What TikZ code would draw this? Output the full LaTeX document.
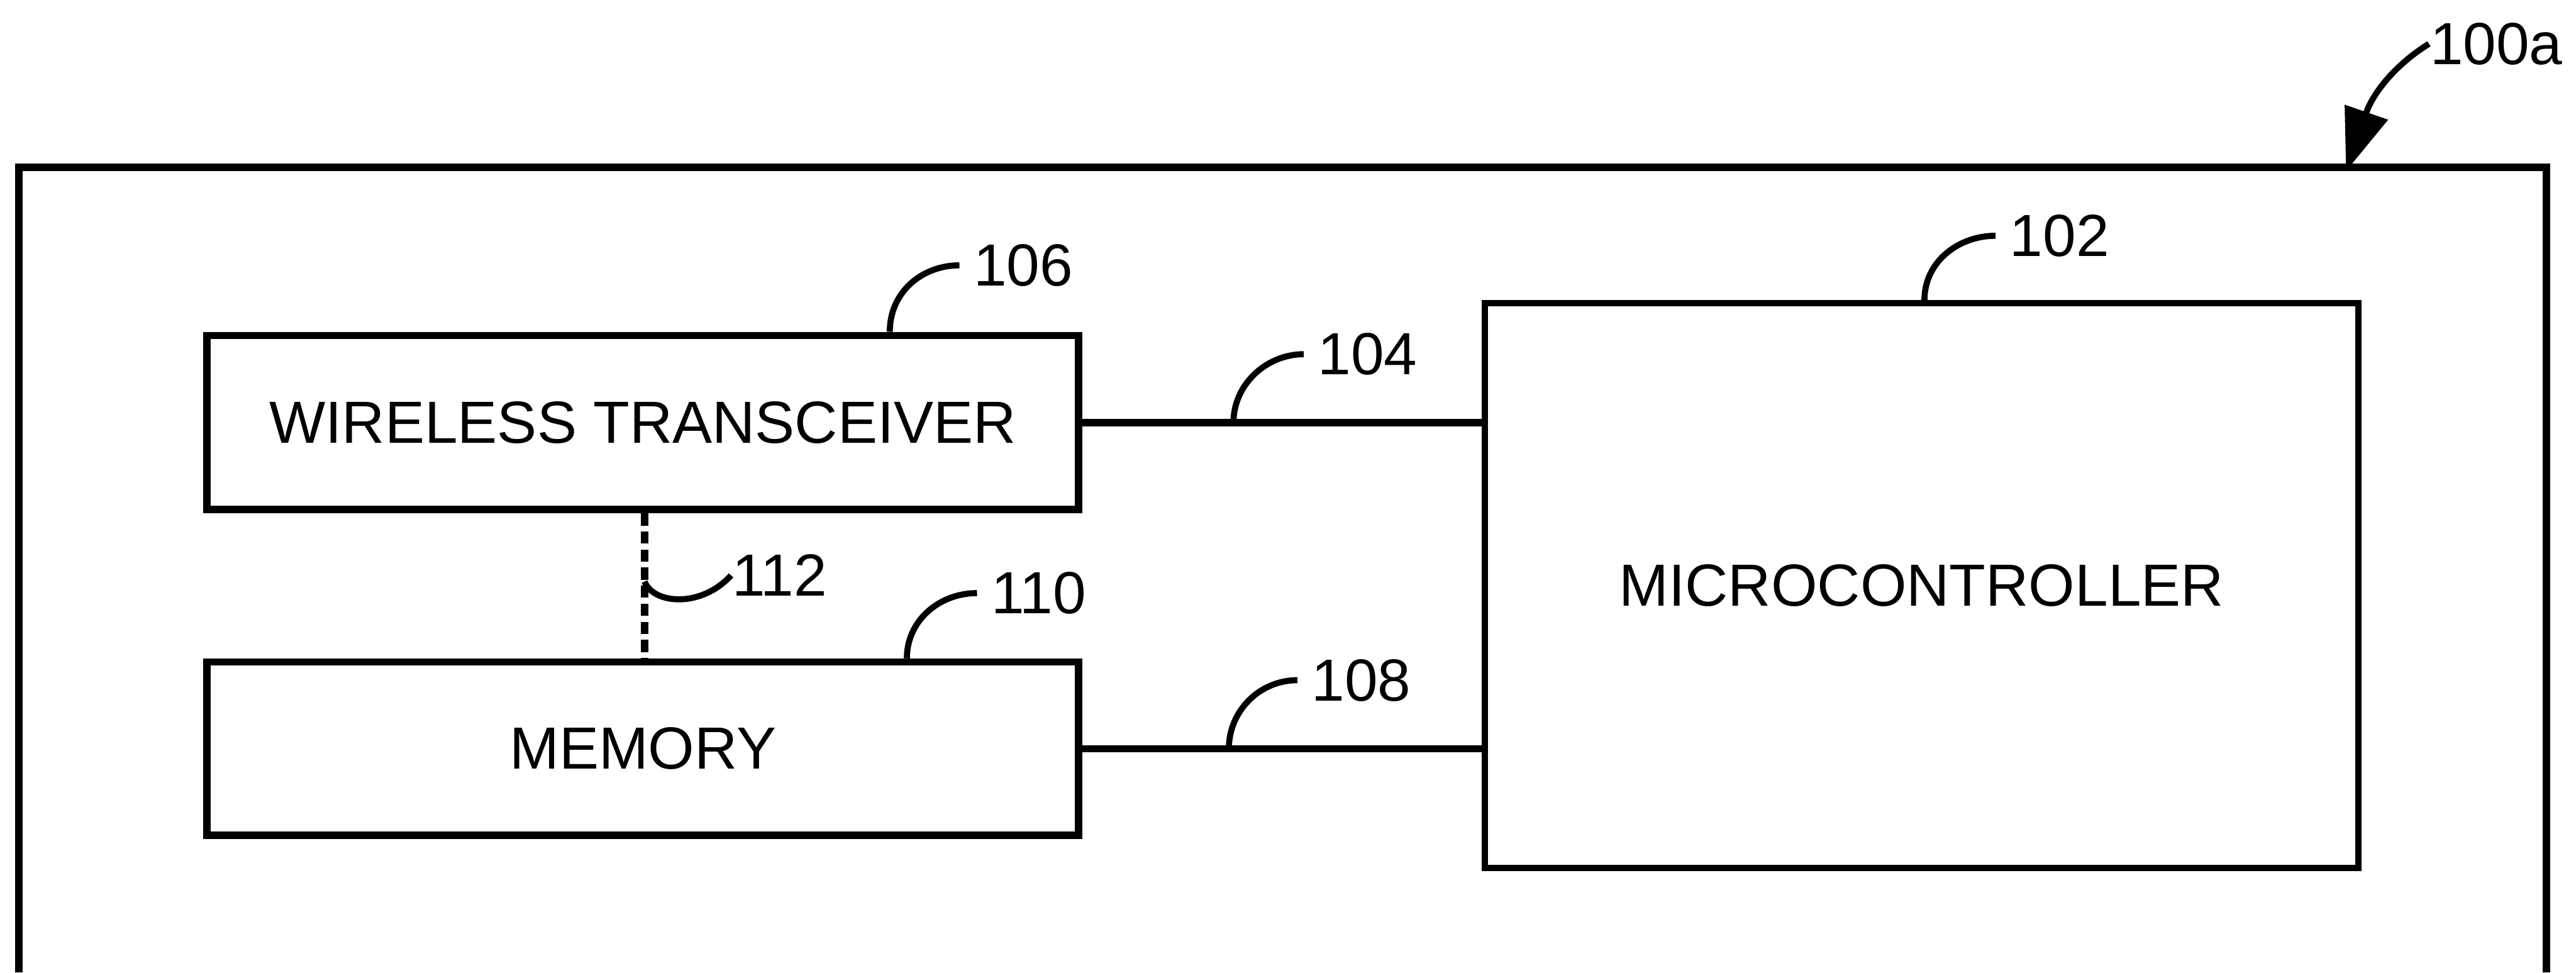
\documentclass[tikz,border=0pt]{standalone}
\usepackage{fontspec}
\setmainfont{Liberation Sans}
\usetikzlibrary{arrows.meta}
\tikzset{
  blk/.style={draw, rectangle, line width=0.45mm, inner sep=0pt, font=\fontsize{10.3}{12}\selectfont},
  lbl/.style={inner sep=0pt, anchor=west, font=\fontsize{10.3}{12}\selectfont},
  leader/.style={line width=0.37mm},
  bus/.style={line width=0.45mm},
  frame/.style={line width=0.45mm, line join=miter},
}
\begin{document}
\begin{tikzpicture}[x=0.1mm, y=-0.1mm]
\useasboundingbox (0,0) rectangle (1568,592);

% outer housing (open at the bottom)
\coordinate (fbl) at (11.6,592);
\coordinate (ftl) at (11.6,101.8);
\coordinate (ftr) at (1550,101.8);
\coordinate (fbr) at (1550,592);
\draw[frame] (fbl) -- (ftl) -- (ftr) -- (fbr);

% blocks
\node[blk, minimum width=53.06mm, minimum height=10.6mm] (wt) at (391.3,257.2) {WIRELESS TRANSCEIVER};
\node[blk, minimum width=53.06mm, minimum height=10.55mm] (mem) at (391.3,455.7) {MEMORY};
\node[blk, line width=0.38mm, minimum width=53.16mm, minimum height=34.38mm] (mc) at (1169.6,356.4) {MICROCONTROLLER};

% reference labels
\node[lbl] (l106) at (592,161.5) {106};
\node[lbl] (l104) at (801.6,215.6) {104};
\node[lbl] (l102) at (1222.7,143.5) {102};
\node[lbl] (l108) at (797.7,414) {108};
\node[lbl] (l110) at (602.7,361) {110};
\node[lbl] (l112) at (445,350.2) {112};
\node[lbl] (l100a) at (1478.5,26.7) {100a};

% connections
\draw[bus] (wt.east) -- (wt.east -| mc.west);
\draw[bus, line width=0.4mm] (mem.east) -- (mem.east -| mc.west);
\draw[line width=0.45mm, dash pattern=on 0.74mm off 0.36mm] (wt.south -| 392.3,0) -- (mem.north -| 392.3,0);

% leader lines
\draw[leader] (wt.north -| 541.6,0) .. controls +(0,-24) and +(-23,0) .. ([xshift=-0.8mm]l106.west);
\draw[leader] (wt.east -| 750.8,0) .. controls +(0,-23) and +(-23,0) .. ([xshift=-0.8mm]l104.west);
\draw[leader] (mem.east -| 748,0) .. controls +(0,-23) and +(-23,0) .. ([xshift=-0.8mm]l108.west);
\draw[leader] (mem.north -| 552,0) .. controls +(0,-23) and +(-23,0) .. ([xshift=-0.8mm]l110.west);
\draw[leader] (mc.north -| 1171.4,0) .. controls +(0,-23) and +(-23,0) .. ([xshift=-0.8mm]l102.west);
\coordinate (d112) at (392.3,354);
\draw[leader] (d112) .. controls (398,368) and (427,370) .. (l112.west);

% arrow 100a
\coordinate (tip) at (1428,104.2);
\draw[leader, -{Triangle[length=3.8mm, width=2.7mm]}] (l100a.west) .. controls (1460,38) and (1445,55) .. (tip);
\end{tikzpicture}
\end{document}
